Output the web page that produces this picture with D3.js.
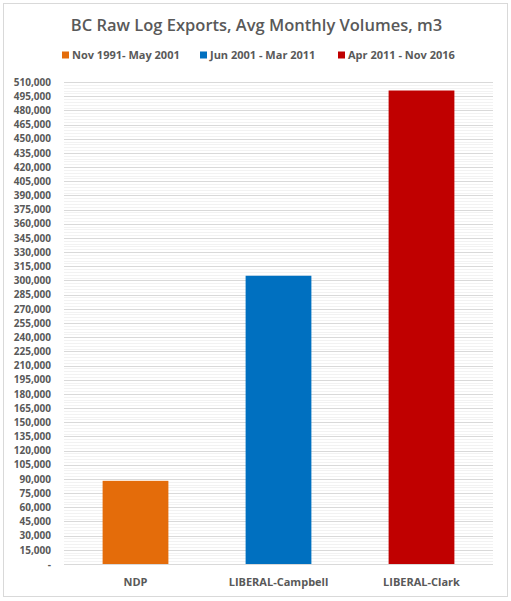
<!DOCTYPE html>
<html>
<head>
<meta charset="utf-8">
<script src="https://d3js.org/d3.v7.min.js"></script>
<style>
  body { margin: 0; background: #fff; }
  text { font-family: "Open Sans", "Noto Sans", sans-serif; fill: #595959; }
</style>
</head>
<body>
<div id="chart"></div>
<script>
// Data
var categories = ["NDP", "LIBERAL-Campbell", "LIBERAL-Clark"];
var periods = ["Nov 1991- May 2001", "Jun 2001 - Mar 2011", "Apr 2011 - Nov 2016"];
var volumes = [88000, 305000, 501000];
var colors = ["#E46C0A", "#0070C0", "#C00000"];
var yMax = 510000;
var majorStep = 15000;
var minorStep = 3000;

var svgWidth = 511;
var svgHeight = 601;

var margin = { top: 82, right: 18, bottom: 37, left: 64 };
var width = svgWidth - margin.left - margin.right;
var height = svgHeight - margin.top - margin.bottom;

var svg = d3.select("#chart")
  .append("svg")
  .attr("width", svgWidth)
  .attr("height", svgHeight);

// chart frame
svg.append("rect")
  .attr("x", 3.5)
  .attr("y", 3.5)
  .attr("width", 504)
  .attr("height", 593)
  .attr("fill", "#fff")
  .attr("stroke", "#D9D9D9");

svg.append("text")
  .attr("x", svgWidth / 2 + 1)
  .attr("y", 31)
  .attr("text-anchor", "middle")
  .attr("font-size", "16.5px")
  .attr("font-weight", "600")
  .text("BC Raw Log Exports, Avg Monthly Volumes, m3");

// legend
var legendX = [62, 200, 338];
var legend = svg.append("g").selectAll("g")
  .data(periods)
  .enter()
  .append("g")
  .attr("transform", (d, i) => `translate(${legendX[i]}, 55)`);

legend.append("rect")
  .attr("x", 0)
  .attr("y", -3.5)
  .attr("width", 7)
  .attr("height", 7)
  .attr("fill", (d, i) => colors[i]);

legend.append("text")
  .attr("x", 10)
  .attr("dy", "0.35em")
  .attr("font-size", "11px")
  .attr("font-weight", "bold")
  .text(d => d);

var chartGroup = svg.append("g")
  .attr("transform", `translate(${margin.left}, ${margin.top})`);

var xScale = d3.scaleBand()
  .domain(categories)
  .range([0, width])
  .paddingInner(0.54)
  .paddingOuter(0.27);

var yScale = d3.scaleLinear()
  .domain([0, yMax])
  .range([height, 0]);

// minor gridlines
chartGroup.append("g")
  .selectAll("line")
  .data(d3.range(0, yMax + 1, minorStep).filter(v => v % majorStep !== 0))
  .enter()
  .append("line")
  .attr("x1", 0)
  .attr("x2", width)
  .attr("y1", d => Math.round(yScale(d)) + 0.5)
  .attr("y2", d => Math.round(yScale(d)) + 0.5)
  .attr("stroke", "#F2F2F2");

// major gridlines
chartGroup.append("g")
  .selectAll("line")
  .data(d3.range(0, yMax + 1, majorStep))
  .enter()
  .append("line")
  .attr("x1", 0)
  .attr("x2", width)
  .attr("y1", d => Math.round(yScale(d)) + 0.5)
  .attr("y2", d => Math.round(yScale(d)) + 0.5)
  .attr("stroke", "#D9D9D9");

// bars
chartGroup.selectAll(".bar")
  .data(volumes)
  .enter()
  .append("rect")
  .attr("class", "bar")
  .attr("x", (d, i) => xScale(categories[i]))
  .attr("y", d => yScale(d))
  .attr("width", xScale.bandwidth())
  .attr("height", d => height - yScale(d))
  .attr("fill", (d, i) => colors[i]);

// y axis
var leftAxis = d3.axisLeft(yScale)
  .tickValues(d3.range(0, yMax + 1, majorStep))
  .tickSize(0)
  .tickPadding(13)
  .tickFormat(d => d === 0 ? "-" : d3.format(",")(d));

var yAxisG = chartGroup.append("g").call(leftAxis);
yAxisG.select(".domain").remove();
yAxisG.selectAll("text")
  .attr("font-size", "10px")
  .attr("font-weight", "bold")
  .attr("font-family", null)
  .attr("fill", "#595959");

// x axis
var bottomAxis = d3.axisBottom(xScale).tickSize(0).tickPadding(14);
var xAxisG = chartGroup.append("g")
  .attr("transform", `translate(0, ${height})`)
  .call(bottomAxis);
xAxisG.select(".domain").remove();
xAxisG.selectAll("text")
  .attr("font-size", "11px")
  .attr("font-weight", "bold")
  .attr("font-family", null)
  .attr("fill", "#595959");
</script>
</body>
</html>
